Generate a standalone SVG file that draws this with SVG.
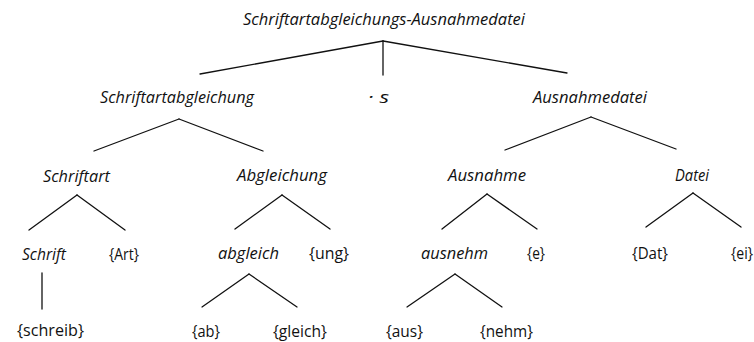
<svg xmlns="http://www.w3.org/2000/svg" width="754" height="342" viewBox="0 0 754 342">
  <style>
    .w { font-family: "Open Sans", "Noto Sans", "Liberation Sans", sans-serif; font-size: 15.5px; font-style: italic; fill: #111; }
    .m { font-family: "Open Sans", "Noto Sans", "Liberation Sans", sans-serif; font-size: 15.5px; fill: #111; }
    .edges line { stroke: #111; stroke-width: 1.3; stroke-linecap: round; }
  </style>
  <rect width="754" height="342" fill="#fff"/>

  <!-- branches of the word-formation tree -->
  <g id="connectors" class="edges">
    <line x1="383" y1="41" x2="200" y2="74"/>
    <line x1="383" y1="41" x2="383" y2="75"/>
    <line x1="383" y1="41" x2="567" y2="73"/>
    <line x1="179" y1="119" x2="94" y2="151"/>
    <line x1="179" y1="119" x2="263" y2="151"/>
    <line x1="591" y1="117" x2="505" y2="150"/>
    <line x1="591" y1="117" x2="676" y2="149"/>
    <line x1="77" y1="195" x2="29" y2="230"/>
    <line x1="77" y1="195" x2="125" y2="230"/>
    <line x1="282" y1="195" x2="235" y2="229"/>
    <line x1="282" y1="195" x2="330" y2="229"/>
    <line x1="487" y1="194" x2="442" y2="229"/>
    <line x1="487" y1="194" x2="537" y2="229"/>
    <line x1="693" y1="193" x2="646" y2="227"/>
    <line x1="693" y1="193" x2="741" y2="227"/>
    <line x1="42" y1="273" x2="42" y2="309"/>
    <line x1="249" y1="274" x2="202" y2="307"/>
    <line x1="249" y1="274" x2="297" y2="307"/>
    <line x1="455" y1="274" x2="407" y2="307"/>
    <line x1="455" y1="274" x2="502" y2="307"/>
  </g>

  <!-- compound and its immediate constituents -->
  <g id="n-root"><text class="w" x="243" y="25" textLength="282" lengthAdjust="spacingAndGlyphs">Schriftartabgleichungs-Ausnahmedatei</text></g>
  <g id="n-schriftartabgleichung"><text class="w" x="100" y="103" textLength="154" lengthAdjust="spacingAndGlyphs">Schriftartabgleichung</text></g>
  <g id="n-fugen-s"><text class="w" x="368" y="103" textLength="21" lengthAdjust="spacingAndGlyphs">· s</text></g>
  <g id="n-ausnahmedatei"><text class="w" x="533" y="103" textLength="114" lengthAdjust="spacingAndGlyphs">Ausnahmedatei</text></g>

  <!-- second level -->
  <g id="n-schriftart"><text class="w" x="43" y="182" textLength="67" lengthAdjust="spacingAndGlyphs">Schriftart</text></g>
  <g id="n-abgleichung"><text class="w" x="237" y="181" textLength="90" lengthAdjust="spacingAndGlyphs">Abgleichung</text></g>
  <g id="n-ausnahme"><text class="w" x="448" y="181" textLength="78" lengthAdjust="spacingAndGlyphs">Ausnahme</text></g>
  <g id="n-datei"><text class="w" x="675" y="181" textLength="34" lengthAdjust="spacingAndGlyphs">Datei</text></g>

  <!-- third level -->
  <g id="n-schrift"><text class="w" x="22" y="260" textLength="44" lengthAdjust="spacingAndGlyphs">Schrift</text></g>
  <g id="n-art"><text class="m" x="109" y="260" textLength="30" lengthAdjust="spacingAndGlyphs">{Art}</text></g>
  <g id="n-abgleich"><text class="w" x="218" y="259" textLength="61" lengthAdjust="spacingAndGlyphs">abgleich</text></g>
  <g id="n-ung"><text class="m" x="309" y="259" textLength="40" lengthAdjust="spacingAndGlyphs">{ung}</text></g>
  <g id="n-ausnehm"><text class="w" x="421" y="259" textLength="67" lengthAdjust="spacingAndGlyphs">ausnehm</text></g>
  <g id="n-e"><text class="m" x="527" y="259" textLength="18" lengthAdjust="spacingAndGlyphs">{e}</text></g>
  <g id="n-dat"><text class="m" x="632" y="259" textLength="36" lengthAdjust="spacingAndGlyphs">{Dat}</text></g>
  <g id="n-ei"><text class="m" x="731" y="259" textLength="22" lengthAdjust="spacingAndGlyphs">{ei}</text></g>

  <!-- morphemes -->
  <g id="n-schreib"><text class="m" x="17" y="336" textLength="67" lengthAdjust="spacingAndGlyphs">{schreib}</text></g>
  <g id="n-ab"><text class="m" x="192" y="337" textLength="28" lengthAdjust="spacingAndGlyphs">{ab}</text></g>
  <g id="n-gleich"><text class="m" x="273" y="337" textLength="54" lengthAdjust="spacingAndGlyphs">{gleich}</text></g>
  <g id="n-aus"><text class="m" x="386" y="337" textLength="37" lengthAdjust="spacingAndGlyphs">{aus}</text></g>
  <g id="n-nehm"><text class="m" x="480" y="337" textLength="53" lengthAdjust="spacingAndGlyphs">{nehm}</text></g>
</svg>
